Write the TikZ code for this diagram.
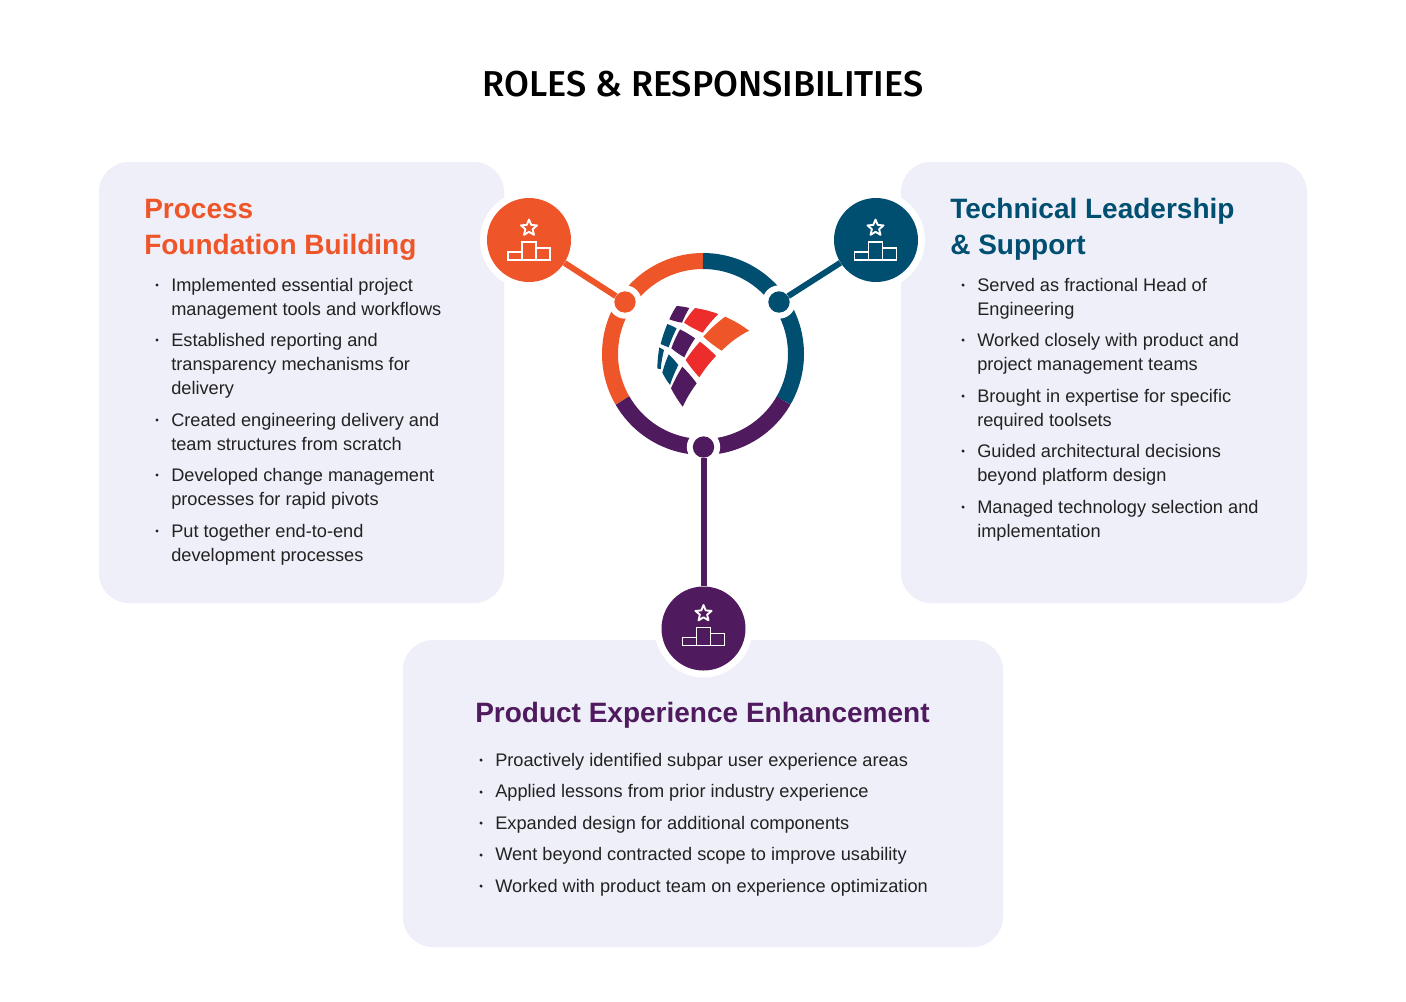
\documentclass[tikz,border=0pt]{standalone}
\usepackage{fontspec}
\setmainfont{Liberation Sans}
\newfontfamily\titlefont{Fira Sans}[UprightFont=*-Medium]
\usetikzlibrary{calc}
\definecolor{org}{HTML}{EE5529}
\definecolor{blu}{HTML}{004E70}
\definecolor{pur}{HTML}{501A5E}
\definecolor{redd}{HTML}{EC2D2B}
\definecolor{card}{HTML}{EEEFF8}
\definecolor{txt}{HTML}{222222}
\tikzset{
 cardbox/.style={fill=card,rounded corners=22.5pt,draw=none},
 body/.style={anchor=base west,inner sep=0pt,font=\fontsize{13.65}{14}\selectfont,text=txt},
 bul/.style={circle,fill=txt,inner sep=0pt,minimum size=2.6pt},
 head/.style={anchor=base west,inner sep=0pt,font=\fontsize{21}{24}\selectfont\bfseries},
 halo/.style={circle,fill=white,minimum size=73.5pt,inner sep=0pt},
 big/.style={circle,minimum size=63pt,inner sep=0pt},
 small/.style={circle,minimum size=16pt,inner sep=0pt},
 smhalo/.style={circle,fill=white,minimum size=25pt,inner sep=0pt},
 ring/.style={line width=12pt,line cap=butt},
 link/.style={line width=4.5pt},
 iconln/.style={draw=white,line width=1.4pt,line join=miter},
}
\newcommand{\podium}[1]{%
 \begin{scope}[shift={(#1)}]
 \draw[iconln] (-7,2) rectangle (7,20) (-21,12) rectangle (-7,20) (7,8) rectangle (21,20);
 \begin{scope}[shift={(0,-12)}]
 \draw[iconln,line join=round] (-90:8.5) -- (-54:3.8) -- (-18:8.5) -- (18:3.8) -- (54:8.5) -- (90:3.8) -- (126:8.5) -- (162:3.8) -- (198:8.5) -- (234:3.8) -- cycle;
 \end{scope}
 \end{scope}}
\begin{document}
\begin{tikzpicture}[x=0.75pt,y=-0.75pt]
\useasboundingbox[fill=white] (0,0) rectangle (1406,1001);
\node[cardbox,minimum width=303.75pt,minimum height=330.75pt] (cl) at (301.5,382.5) {};
\node[cardbox,minimum width=304.5pt,minimum height=330.75pt] (cr) at (1104,382.5) {};
\node[cardbox,minimum width=450pt,minimum height=230.25pt] (cb) at (703,793.5) {};
\node[anchor=base,inner sep=0pt,font=\titlefont\fontsize{27}{30}\selectfont,text=black] (title) at (703,96) {ROLES \& RESPONSIBILITIES};
% ring
\draw[ring,org] (703,261) arc[start angle=-90,end angle=-210,radius=93];
\draw[ring,blu] (703,261) arc[start angle=-90,end angle=30,radius=93];
\draw[ring,pur] (622.5,400.5) arc[start angle=150,end angle=30,radius=93];
% hubs
\node[smhalo] (ho) at (625,302) {};
\node[smhalo] (hb) at (779,302) {};
\node[smhalo] (hp) at (703.5,447) {};
\node[small,fill=org] (so) at (625,302) {};
\node[small,fill=blu] (sb) at (779,302) {};
\node[small,fill=pur] (sp) at (703.5,447) {};
% halos and big circles
\node[halo] (ho2) at (529,240) {};
\node[halo] (hb2) at (876,240) {};
\node[halo] (hp2) at (703.5,628.5) {};
\node[big,fill=org] (bo) at (529,240) {};
\node[big,fill=blu] (bb) at (876,240) {};
\node[big,fill=pur] (bp) at (703.5,628.5) {};
\draw[link,org] (bo) -- (so);
\draw[link,blu] (bb) -- (sb);
\draw[link,pur] (bp) -- (sp);
\podium{529,240}
\podium{875.5,240}
\podium{703.5,625.5}
% logo
\begin{scope}[shift={(650,300)},x=0.25pt,y=-0.25pt,line join=round]
\fill[pur] (80,18) to[bend left=5] (118,24) to[bend right=4] (96,68) to[bend left=5] (58,58) to[bend left=5] cycle;
\fill[redd] (135,24) to[bend left=5] (205,42) to[bend right=5] (158,98) to[bend left=5] (102,68) to[bend left=5] cycle;
\fill[org] (225,50) to[bend left=6] (297,92) to[bend right=8] (215,152) to[bend left=5] (160,110) to[bend left=5] cycle;
\fill[blu] (52,72) to[bend left=4] (80,85) to[bend right=4] (56,142) to[bend left=4] (32,132) to[bend left=4] cycle;
\fill[pur] (90,88) to[bend left=4] (135,115) to[bend right=4] (103,172) to[bend left=4] (64,145) to[bend left=4] cycle;
\fill[redd] (150,125) to[bend left=4] (198,168) to[bend right=5] (148,232) to[bend left=4] (107,180) to[bend left=4] cycle;
\fill[blu] (28,142) -- (42,150) to[bend right=4] (32,208) -- (22,205) to[bend left=4] cycle;
\fill[blu] (56,163) to[bend left=4] (85,195) to[bend right=4] (60,255) to[bend left=4] (37,218) to[bend left=4] cycle;
\fill[pur] (97,200) to[bend left=4] (140,250) to[bend right=5] (98,320) to[bend left=4] (63,265) to[bend left=4] cycle;
\end{scope}
% left text
\node[head,text=org] (l1) at (144,218) {Process};
\node[head,text=org] (l2) at (144,254) {Foundation Building};
\foreach \n/\y/\t in {a/291/Implemented essential project,b/315/management tools and workflows,c/346/Established reporting and,d/370/transparency mechanisms for,e/394/delivery,f/426/Created engineering delivery and,g/450/team structures from scratch,h/481/Developed change management,i/505/processes for rapid pivots,j/537/Put together end-to-end,k/561/development processes}
 \node[body] (lt\n) at (171,\y) {\t};
\foreach \y in {285,340,420,475,531} \node[bul] at (157,\y) {};
% right text
\node[head,text=blu] (r1) at (950,218) {Technical Leadership};
\node[head,text=blu] (r2) at (950,254) {\& Support};
\foreach \n/\y/\t in {a/291/Served as fractional Head of,b/315/Engineering,c/346/Worked closely with product and,d/370/project management teams,e/402/Brought in expertise for specific,f/426/required toolsets,g/457/Guided architectural decisions,h/481/beyond platform design,i/513/Managed technology selection and,j/537/implementation}
 \node[body] (rt\n) at (977,\y) {\t};
\foreach \y in {285,340,396,451,507} \node[bul] at (963,\y) {};
% bottom text
\node[head,text=pur] (b1) at (475,722) {Product Experience Enhancement};
\foreach \n/\y/\t in {a/766/Proactively identified subpar user experience areas,b/797/Applied lessons from prior industry experience,c/829/Expanded design for additional components,d/860/Went beyond contracted scope to improve usability,e/892/Worked with product team on experience optimization}
 \node[body] (bt\n) at (495,\y) {\t};
\foreach \y in {760,792,823,855,886} \node[bul] at (481,\y) {};
\end{tikzpicture}
\end{document}
